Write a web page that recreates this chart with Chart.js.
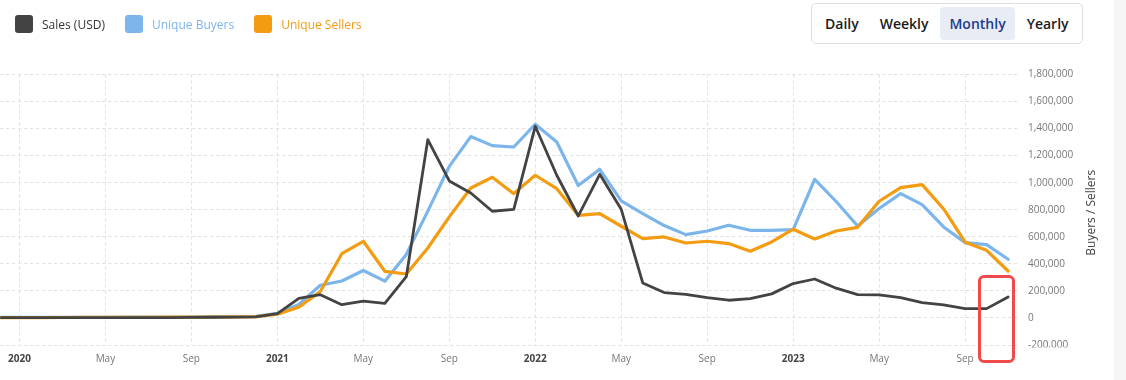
<!DOCTYPE html>
<html>
<head>
<meta charset="utf-8">
<script src="https://cdn.jsdelivr.net/npm/chart.js@4.4.1/dist/chart.umd.min.js"></script>
<style>
html,body{margin:0;padding:0;background:#fff;width:1126px;height:380px;overflow:hidden;font-family:"Open Sans",sans-serif;}
#wrap{position:relative;width:1126px;height:380px;}
#chartBox{position:absolute;left:0;top:0;width:1113px;height:380px;}
#strip{position:absolute;left:1114px;top:0;width:12px;height:380px;background:#f6f6f6;}
#legend{position:absolute;left:15px;top:15px;display:flex;align-items:center;font-size:12px;height:18px;}
.li{display:flex;align-items:center;margin-right:20px;white-space:nowrap;}
.sw{width:18px;height:18px;border-radius:3px;margin-right:9px;}
#btns{position:absolute;left:811px;top:3px;display:flex;gap:3px;padding:3px 4px;border:1px solid #dedede;border-radius:5px;background:#fff;}
.btn{height:33px;line-height:33px;padding:0 9px;font-size:14px;font-weight:600;color:#1c1c1c;border-radius:4px;}
.btn.active{background:#e8ecf5;color:#1d3b8b;}
#mark{position:absolute;left:978px;top:275px;width:37px;height:88px;box-sizing:border-box;border:3px solid #f04a4a;border-radius:6px;}
</style>
</head>
<body>
<div id="wrap">
  <div id="chartBox"><canvas id="c" width="1113" height="380"></canvas></div>
  <div id="strip"></div>
  <div id="legend"></div>
  <div id="btns"></div>
  <div id="mark"></div>
</div>
<script>
// ---- data ----
const months = [
  "2019-12",
  "2020-01","2020-02","2020-03","2020-04","2020-05","2020-06","2020-07","2020-08","2020-09","2020-10","2020-11","2020-12",
  "2021-01","2021-02","2021-03","2021-04","2021-05","2021-06","2021-07","2021-08","2021-09","2021-10","2021-11","2021-12",
  "2022-01","2022-02","2022-03","2022-04","2022-05","2022-06","2022-07","2022-08","2022-09","2022-10","2022-11","2022-12",
  "2023-01","2023-02","2023-03","2023-04","2023-05","2023-06","2023-07","2023-08","2023-09","2023-10","2023-11"
];
const sales = [
  2000,
  2000,2000,2000,2000,2500,2500,3000,3000,4000,5000,6000,8000,
  32000,145000,172000,98000,124000,108000,305000,1318000,1013000,924000,789000,803000,
  1417000,1055000,754000,1062000,803000,259000,188000,175000,151000,131000,143000,178000,
  254000,288000,220000,173000,170000,151000,114000,96000,69000,69000,155000
];
const buyers = [
  4000,
  4000,4000,4500,5000,5000,5500,6000,6500,7000,8000,9000,12000,
  35000,100000,242000,273000,351000,272000,470000,790000,1121000,1341000,1274000,1264000,
  1432000,1301000,979000,1099000,865000,772000,683000,616000,643000,685000,648000,648000,
  653000,1025000,861000,680000,809000,919000,838000,673000,557000,542000,434000
];
const sellers = [
  3000,
  3000,3000,3500,4000,4000,4500,5000,5500,6000,7000,8000,10000,
  28000,80000,195000,475000,567000,345000,325000,517000,747000,961000,1040000,919000,
  1055000,956000,759000,772000,678000,587000,599000,554000,567000,550000,493000,562000,
  656000,584000,643000,670000,863000,964000,986000,806000,560000,500000,347000
];
const tickMonths = ["2020-01","2020-05","2020-09","2021-01","2021-05","2021-09","2022-01","2022-05","2022-09","2023-01","2023-05","2023-09"];
const tickLabels = ["2020","May","Sep","2021","May","Sep","2022","May","Sep","2023","May","Sep"];
const yTicks = [-200000,0,200000,400000,600000,800000,1000000,1200000,1400000,1600000,1800000];
const seriesNames = ["Sales (USD)","Unique Buyers","Unique Sellers"];
const seriesColors = ["#434343","#7cb5ec","#f39c12"];
const legendTextColors = ["#333333","#7cb5ec","#f39c12"];
const buttons = ["Daily","Weekly","Monthly","Yearly"];
const activeButton = "Monthly";
const yTitle = "Buyers / Sellers";

// ---- helpers ----
function mIdx(s){const p=s.split('-').map(Number);return (p[0]-2020)*12+(p[1]-1);}
function pts(vals){return months.map((m,i)=>({x:mIdx(m),y:vals[i]}));}
const isYear = l => /^\d{4}$/.test(l);

// ---- html legend & buttons ----
const lg = document.getElementById('legend');
seriesNames.forEach((n,i)=>{
  const d=document.createElement('div');d.className='li';
  d.innerHTML='<span class="sw" style="background:'+seriesColors[i]+'"></span><span style="color:'+legendTextColors[i]+'">'+n+'</span>';
  lg.appendChild(d);
});
const bt = document.getElementById('btns');
buttons.forEach(b=>{
  const d=document.createElement('div');d.className='btn'+(b===activeButton?' active':'');d.textContent=b;bt.appendChild(d);
});

// ---- plugins ----
const extras = {
  id:'extras',
  afterDraw(chart){
    const ctx=chart.ctx, s=chart.scales.y, ca=chart.chartArea;
    ctx.save();
    // clipped bottom label like the reference
    ctx.fillStyle='#fff';
    ctx.fillRect(ca.right+2, ca.bottom+2.5, s.right-ca.right-2, 7);
    // axis title, reading bottom-to-top
    ctx.translate(s.right-21,(ca.top+ca.bottom)/2+3);
    ctx.rotate(-Math.PI/2);
    ctx.textAlign='center';ctx.textBaseline='middle';
    ctx.font='12px "Open Sans"';ctx.fillStyle='#444';
    ctx.fillText(yTitle,0,0);
    ctx.restore();
  }
};

const gridColor='#e0e0e0';
new Chart(document.getElementById('c'),{
  type:'line',
  data:{
    datasets:[
      {label:seriesNames[0],data:pts(sales),borderColor:seriesColors[0],backgroundColor:seriesColors[0],borderWidth:2.8,order:0},
      {label:seriesNames[1],data:pts(buyers),borderColor:seriesColors[1],backgroundColor:seriesColors[1],borderWidth:3.2,order:2},
      {label:seriesNames[2],data:pts(sellers),borderColor:seriesColors[2],backgroundColor:seriesColors[2],borderWidth:3.2,order:1}
    ]
  },
  options:{
    responsive:false,animation:false,
    devicePixelRatio:1,
    layout:{padding:{top:74.5,left:0,right:0,bottom:0}},
    elements:{point:{radius:0,hoverRadius:0},line:{tension:0,borderJoinStyle:'round',borderCapStyle:'round'}},
    plugins:{legend:{display:false},tooltip:{enabled:false}},
    scales:{
      x:{
        type:'linear',min:-0.893,max:46.46,
        afterBuildTicks:s=>{s.ticks=tickMonths.map(m=>({value:mIdx(m)}));},
        afterFit:s=>{s.height=35;},
        grid:{color:gridColor,drawTicks:false},
        border:{display:false,dash:[3,3]},
        ticks:{
          autoSkip:false,maxRotation:0,padding:8,
          callback:(v,i)=>tickLabels[i],
          font:c=>({family:'"Open Sans"',size:10,weight:isYear(tickLabels[c.index])?'bold':'normal'}),
          color:c=>isYear(tickLabels[c.index])?'#444':'#777'
        }
      },
      y:{
        type:'linear',position:'right',min:-200000,max:1800000,
        afterBuildTicks:s=>{s.ticks=yTicks.map(v=>({value:v}));},
        afterFit:s=>{s.width=95;},
        grid:{color:gridColor,drawTicks:false},
        border:{display:false,dash:[3,3]},
        ticks:{padding:10,color:'#777',font:{family:'"Open Sans"',size:10},callback:v=>Number(v).toLocaleString('en-US')}
      }
    }
  },
  plugins:[extras]
});
</script>
</body>
</html>
